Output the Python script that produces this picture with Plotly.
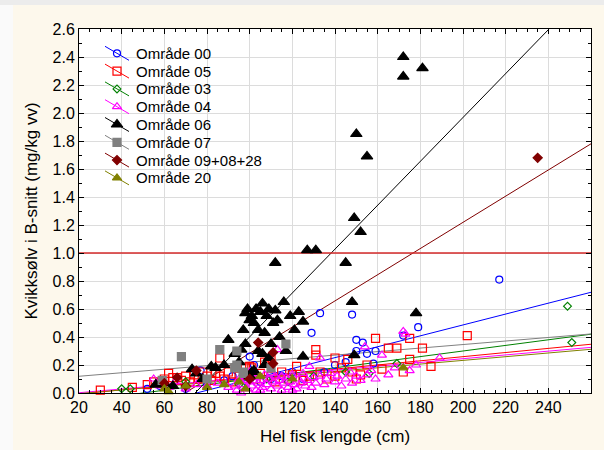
import plotly.graph_objects as go

# ---------------- data ----------------
series_names = ["Område 00", "Område 05", "Område 03", "Område 04",
                "Område 06", "Område 07", "Område 09+08+28", "Område 20"]

o00_x = [52, 58, 70, 77, 80, 88, 92, 100, 105, 110, 115, 120, 125, 129, 133, 135, 140, 145,
         148, 150, 150, 153, 155, 158, 159, 172, 179, 217, 96, 102]
o00_y = [0.03, 0.05, 0.03, 0.16, 0.07, 0.09, 0.12, 0.26, 0.08, 0.10, 0.12, 0.15, 0.10, 0.43, 0.57, 0.15, 0.20, 0.22,
         0.56, 0.38, 0.30, 0.36, 0.28, 0.21, 0.30, 0.41, 0.47, 0.81, 0.05, 0.20]

o05_x = [30, 45, 52, 55, 58, 60, 62, 64, 66, 68, 70, 72, 74, 76, 78, 80, 82, 84, 86, 86, 88, 90, 92, 95,
         98, 100, 101, 103, 105, 107, 110, 112, 115, 118, 120, 122, 125, 128, 131, 131, 133, 136, 140,
         143, 146, 148, 150, 152, 155, 159, 162, 165, 169, 172, 175, 175, 181, 185, 202, 140, 110]
o05_y = [0.02, 0.04, 0.06, 0.08, 0.07, 0.10, 0.14, 0.11, 0.11, 0.09, 0.12, 0.08, 0.13, 0.10, 0.15, 0.12, 0.09, 0.14,
         0.25, 0.12, 0.10, 0.15, 0.08, 0.12, 0.18, 0.19, 0.18, 0.10, 0.14, 0.22, 0.12, 0.08, 0.15, 0.10, 0.13,
         0.19, 0.09, 0.12, 0.31, 0.27, 0.15, 0.10, 0.12, 0.18, 0.24, 0.15, 0.10, 0.13, 0.20, 0.39, 0.17, 0.32,
         0.32, 0.15, 0.24, 0.39, 0.32, 0.19, 0.41, 0.25, 0.25]

o03_x = [40, 44, 70, 95, 100, 108, 118, 130, 145, 156, 169, 249, 251]
o03_y = [0.03, 0.03, 0.08, 0.06, 0.09, 0.10, 0.08, 0.12, 0.15, 0.14, 0.21, 0.62, 0.36]

o04_x = [55, 58, 62, 65, 70, 75, 80, 85, 90, 93, 94, 95, 96, 97, 98, 99, 100, 101, 102, 103, 104, 105,
         106, 107, 108, 109, 110, 111, 112, 113, 113, 114, 115, 116, 117, 118, 119, 120, 121, 122, 123,
         124, 125, 126, 127, 128, 129, 130, 131, 133, 133, 135, 136, 138, 140, 141, 143, 145, 147, 148,
         150, 152, 154, 155, 157, 159, 162, 165, 168, 172, 173, 175, 178, 189, 100, 105, 110, 115, 120, 97, 103]
o04_y = [0.10, 0.05, 0.04, 0.08, 0.03, 0.06, 0.05, 0.07, 0.04, 0.05, 0.02, 0.10, 0.00, 0.06, 0.12, 0.03, 0.08,
         0.05, 0.11, 0.02, 0.07, 0.09, 0.04, 0.13, 0.06, 0.10, 0.03, 0.08, 0.12, 0.31, 0.05, 0.09, 0.02, 0.07,
         0.11, 0.04, 0.08, 0.13, 0.06, 0.03, 0.10, 0.07, 0.14, 0.05, 0.09, 0.19, 0.04, 0.11, 0.07, 0.25, 0.12,
         0.06, 0.10, 0.14, 0.08, 0.12, 0.05, 0.10, 0.15, 0.07, 0.12, 0.09, 0.33, 0.13, 0.16, 0.10, 0.27, 0.13,
         0.18, 0.44, 0.42, 0.16, 0.20, 0.25, 0.15, 0.02, 0.14, 0.12, 0.02, 0.09, 0.14]

o06_x = [56, 60, 64, 73, 75, 78, 82, 84, 88, 90, 93, 96, 97, 98, 99, 100, 101, 102, 103, 104, 105, 106, 106,
         107, 108, 109, 110, 111, 112, 113, 112, 114, 116, 117, 119, 121, 123, 125, 125, 127, 131, 145, 149,
         150, 152, 155, 148, 149, 172, 172, 181, 178, 101, 102, 98, 95, 100, 104, 109, 107]
o06_y = [0.06, 0.07, 0.05, 0.17, 0.14, 0.10, 0.19, 0.18, 0.20, 0.38, 0.28, 0.31, 0.45, 0.57, 0.60, 0.52, 0.55,
         0.50, 0.60, 0.45, 0.58, 0.64, 0.28, 0.43, 0.55, 0.60, 0.35, 0.50, 0.59, 0.52, 0.93, 0.40, 0.65, 0.30,
         0.55, 0.45, 0.58, 0.51, 0.26, 1.02, 1.02, 0.93, 1.25, 1.85, 1.15, 1.69, 0.65, 0.27, 2.40, 2.26, 2.32,
         0.57, 0.15, 0.16, 0.35, 0.22, 0.12, 0.30, 0.25, 0.20]

o07_x = [59, 68, 80, 86, 93, 94, 94, 97, 97, 110, 117]
o07_y = [0.09, 0.26, 0.10, 0.31, 0.18, 0.30, 0.20, 0.14, 0.15, 0.18, 0.35]

o09_x = [60, 66, 70, 75, 100, 104, 111, 111, 235]
o09_y = [0.07, 0.11, 0.05, 0.16, 0.10, 0.36, 0.29, 0.21, 1.68]

o20_x = [60, 62, 70, 80, 88, 95, 98, 105, 120, 172]
o20_y = [0.03, 0.01, 0.05, 0.04, 0.06, 0.08, 0.03, 0.12, 0.10, 0.18]

# regression lines (intercept, slope) per series
reg_intercept = [-0.2919, -0.0365, -0.100, -0.025, -1.166, 0.0942, -0.651, -0.031]
reg_slope = [0.00389, 0.00148, 0.00200, 0.00135, 0.01567, 0.00126, 0.00935, 0.00132]
line_x = [20, 260]

limit_value = 1.0

x_ticks = [20, 40, 60, 80, 100, 120, 140, 160, 180, 200, 220, 240, 260]
y_ticks = [0.0, 0.2, 0.4, 0.6, 0.8, 1.0, 1.2, 1.4, 1.6, 1.8, 2.0, 2.2, 2.4, 2.6]

# ---------------- styles ----------------
colors = ["#0000ff", "#ff0000", "#008000", "#ff00ff", "#000000", "#808080", "#800000", "#808000"]
symbols = ["circle-open", "square-open", "diamond-open", "triangle-up-open",
           "triangle-up", "square", "diamond", "triangle-up"]
sizes = [7, 8, 6, 8, 10, 8, 7, 8]

xs = [o00_x, o05_x, o03_x, o04_x, o06_x, o07_x, o09_x, o20_x]
ys = [o00_y, o05_y, o03_y, o04_y, o06_y, o07_y, o09_y, o20_y]

FONT = "Arial, Liberation Sans, sans-serif"

# plot area in pixels (for the hand-made legend on an overlay axis)
W, H = 604, 450
ML, MR, MT, MB = 79, 13, 29, 57
PW, PH = W - ML - MR, H - MT - MB


def px_x(p):
    return (p - ML) / PW


def px_y(p):
    return (H - MB - p) / PH


fig = go.Figure()

# regression lines
for i in range(8):
    ly = [reg_intercept[i] + reg_slope[i] * v for v in line_x]
    fig.add_trace(go.Scatter(x=line_x, y=ly, mode="lines",
                             line=dict(color=colors[i], width=1),
                             showlegend=False, hoverinfo="skip"))

# limit line
fig.add_trace(go.Scatter(x=line_x, y=[limit_value, limit_value], mode="lines",
                         line=dict(color="#d42a2a", width=1.3),
                         showlegend=False, hoverinfo="skip"))

# scatter points
for i in range(8):
    fig.add_trace(go.Scatter(x=xs[i], y=ys[i], mode="markers", name=series_names[i],
                             marker=dict(symbol=symbols[i], color=colors[i], size=sizes[i],
                                         line=dict(color=colors[i], width=1.2)),
                             showlegend=False, cliponaxis=False))

# hand-made legend (overlay axis in 0..1 plot-fraction coordinates)
annotations = []
row0, rowstep = 53.3, 17.8
for i in range(8):
    c = row0 + rowstep * i
    fig.add_trace(go.Scatter(x=[px_x(105), px_x(129)], y=[px_y(c - 7), px_y(c + 7)],
                             xaxis="x2", yaxis="y2", mode="lines",
                             line=dict(color=colors[i], width=1),
                             showlegend=False, hoverinfo="skip"))
    fig.add_trace(go.Scatter(x=[px_x(117)], y=[px_y(c)],
                             xaxis="x2", yaxis="y2", mode="markers",
                             marker=dict(symbol=symbols[i], color=colors[i], size=sizes[i],
                                         line=dict(color=colors[i], width=1.2)),
                             showlegend=False, hoverinfo="skip"))
    annotations.append(dict(x=px_x(134), y=px_y(c), xref="paper", yref="paper",
                            xanchor="left", yanchor="middle", showarrow=False,
                            text=series_names[i], font=dict(size=15, family=FONT, color="#000000")))

fig.update_layout(
    width=W, height=H,
    margin=dict(l=ML, r=MR, t=MT, b=MB),
    paper_bgcolor="#fdf8ec",
    plot_bgcolor="#ffffff",
    font=dict(family=FONT, size=13, color="#000000"),
    showlegend=False,
    annotations=annotations,
    xaxis2=dict(overlaying="x", range=[0, 1], visible=False, fixedrange=True),
    yaxis2=dict(overlaying="y", range=[0, 1], visible=False, fixedrange=True),
    shapes=[
        dict(type="rect", xref="paper", yref="paper", x0=-0.2, x1=px_x(13), y0=-0.2, y1=1.2,
             fillcolor="#fafafa", line=dict(width=0), layer="below"),
        dict(type="rect", xref="paper", yref="paper", x0=-0.2, x1=1.1, y0=px_y(5), y1=1.2,
             fillcolor="#ececec", line=dict(width=0), layer="below"),
    ],
)

fig.update_xaxes(selector=dict(anchor="y"))
fig.update_layout(
    xaxis=dict(range=[20, 260], tickvals=x_ticks, ticktext=[str(v) for v in x_ticks],
               showgrid=True, gridcolor="#dcdcdc", gridwidth=1,
               showline=True, linecolor="#000000", linewidth=1, mirror="allticks",
               ticks="inside", ticklen=5, tickcolor="#000000",
               minor=dict(dtick=5, ticks="inside", ticklen=3, tickcolor="#000000", showgrid=False),
               zeroline=False, tickfont=dict(size=16), automargin=False,
               title=dict(text="Hel fisk lengde (cm)", font=dict(size=17), standoff=14)),
    yaxis=dict(range=[0, 2.6], tickvals=y_ticks, ticktext=[f"{v:.1f}" for v in y_ticks],
               showgrid=True, gridcolor="#dcdcdc", gridwidth=1,
               showline=True, linecolor="#000000", linewidth=1, mirror="allticks",
               ticks="inside", ticklen=5, tickcolor="#000000",
               minor=dict(dtick=0.1, ticks="inside", ticklen=3, tickcolor="#000000", showgrid=False),
               zeroline=False, tickfont=dict(size=16), automargin=False,
               title=dict(text="Kvikksølv i B-snitt (mg/kg vv)", font=dict(size=17), standoff=10)),
)

fig.write_html("out.html")
